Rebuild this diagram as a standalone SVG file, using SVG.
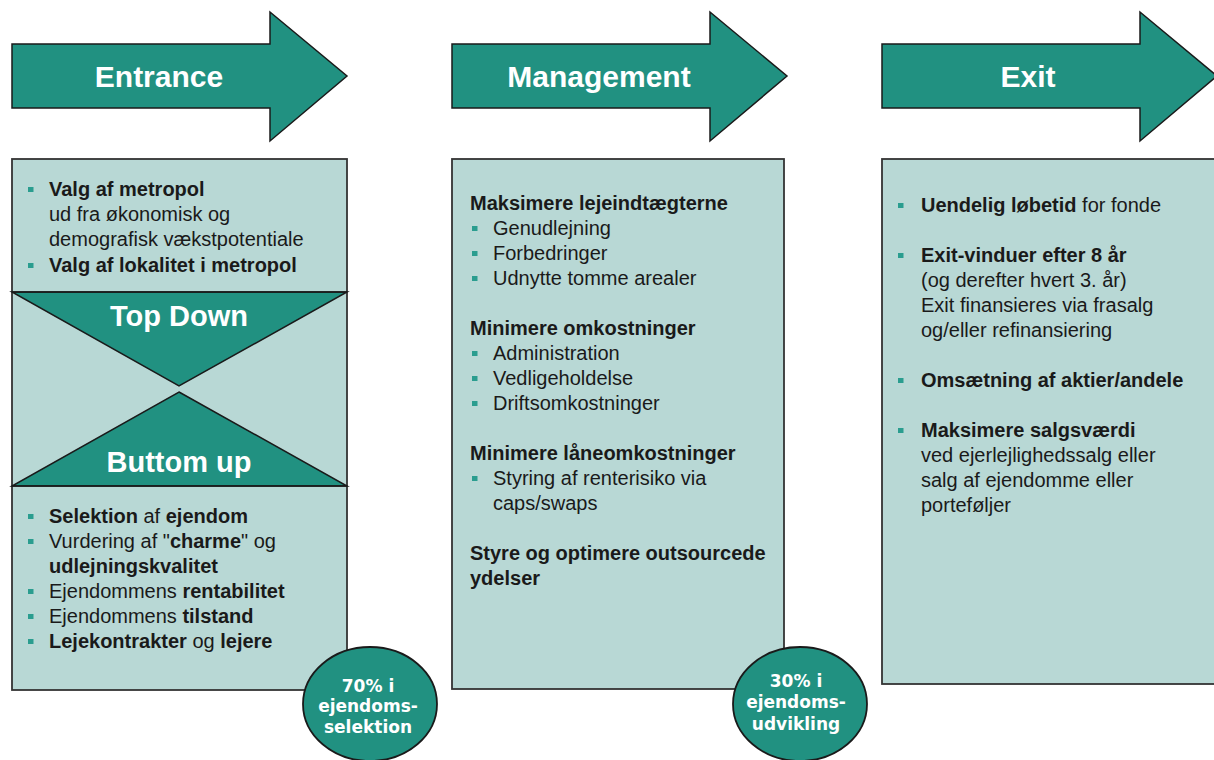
<svg xmlns="http://www.w3.org/2000/svg" width="1214" height="760" viewBox="0 0 1214 760">
<style>
.arrow{fill:#219181;stroke:#1a1a1a;stroke-width:1.5}
.box{fill:#b8d8d5;stroke:#333;stroke-width:1.8}
.tri{fill:#219181;stroke:#1a1a1a;stroke-width:1.5}
.ttl{font-family:"Liberation Sans",Arial,sans-serif;font-weight:bold;font-size:30px;fill:#fff;text-anchor:middle}
.sub{font-family:"Liberation Sans",Arial,sans-serif;font-weight:bold;font-size:29px;fill:#fff;text-anchor:middle}
.t{font-family:"Liberation Sans",Arial,sans-serif;font-size:20px;fill:#1a1a1a}
.b{font-weight:bold}
.bul{fill:#2a9d8f}
.circ{fill:#219181;stroke:#1a1a1a;stroke-width:1.8}
.ct{font-family:"DejaVu Sans",Verdana,sans-serif;font-weight:bold;font-size:17px;fill:#fff;text-anchor:middle}
</style>
<defs>
<rect id="bl" width="5.5" height="5" class="bul"/>
</defs>

<g id="arrow-entrance">
<polygon class="arrow" points="12,44 270,44 270,12 347,76 270,141 270,108 12,108"/>
<text class="ttl" x="159" y="87">Entrance</text>
</g>
<g id="arrow-management">
<polygon class="arrow" points="452,44 710,44 710,12 787,76 710,141 710,108 452,108"/>
<text class="ttl" x="599" y="87">Management</text>
</g>
<g id="arrow-exit">
<polygon class="arrow" points="882,44 1140,44 1140,12 1217,76 1140,141 1140,108 882,108"/>
<text class="ttl" x="1028" y="87">Exit</text>
</g>

<g id="box-entrance">
<rect class="box" x="12" y="159" width="335" height="531"/>
<polygon class="tri" points="12,292 347,292 179,386"/>
<polygon class="tri" points="179,392 347,486 12,486"/>
<line x1="12" y1="292" x2="347" y2="292" stroke="#1a1a1a" stroke-width="1.5"/>
<line x1="12" y1="486" x2="347" y2="486" stroke="#1a1a1a" stroke-width="1.5"/>
<text class="sub" x="179" y="326">Top Down</text>
<text class="sub" x="179" y="472">Buttom up</text>
<use href="#bl" x="28" y="187"/>
<use href="#bl" x="28" y="263"/>
<text class="t" x="49" y="196"><tspan class="b">Valg af metropol</tspan></text>
<text class="t" x="49" y="221">ud fra økonomisk og</text>
<text class="t" x="49" y="246">demografisk vækstpotentiale</text>
<text class="t" x="49" y="272"><tspan class="b">Valg af lokalitet i metropol</tspan></text>
<use href="#bl" x="28" y="514"/>
<use href="#bl" x="28" y="539"/>
<use href="#bl" x="28" y="589"/>
<use href="#bl" x="28" y="614"/>
<use href="#bl" x="28" y="639"/>
<text class="t" x="49" y="523"><tspan class="b">Selektion</tspan> af <tspan class="b">ejendom</tspan></text>
<text class="t" x="49" y="548">Vurdering af "<tspan class="b">charme</tspan>" og</text>
<text class="t" x="49" y="573"><tspan class="b">udlejningskvalitet</tspan></text>
<text class="t" x="49" y="598">Ejendommens <tspan class="b">rentabilitet</tspan></text>
<text class="t" x="49" y="623">Ejendommens <tspan class="b">tilstand</tspan></text>
<text class="t" x="49" y="648"><tspan class="b">Lejekontrakter</tspan> og <tspan class="b">lejere</tspan></text>
</g>

<g id="box-management">
<rect class="box" x="452" y="159" width="332" height="530"/>
<text class="t b" x="470" y="210">Maksimere lejeindtægterne</text>
<use href="#bl" x="472" y="226"/>
<use href="#bl" x="472" y="251"/>
<use href="#bl" x="472" y="276"/>
<text class="t" x="493" y="235">Genudlejning</text>
<text class="t" x="493" y="260">Forbedringer</text>
<text class="t" x="493" y="285">Udnytte tomme arealer</text>
<text class="t b" x="470" y="335">Minimere omkostninger</text>
<use href="#bl" x="472" y="351"/>
<use href="#bl" x="472" y="376"/>
<use href="#bl" x="472" y="401"/>
<text class="t" x="493" y="360">Administration</text>
<text class="t" x="493" y="385">Vedligeholdelse</text>
<text class="t" x="493" y="410">Driftsomkostninger</text>
<text class="t b" x="470" y="460">Minimere låneomkostninger</text>
<use href="#bl" x="472" y="476"/>
<text class="t" x="493" y="485">Styring af renterisiko via</text>
<text class="t" x="493" y="510">caps/swaps</text>
<text class="t b" x="470" y="560">Styre og optimere outsourcede</text>
<text class="t b" x="470" y="585">ydelser</text>
</g>

<g id="box-exit">
<rect class="box" x="882" y="159" width="340" height="525"/>
<use href="#bl" x="898" y="203"/>
<text class="t" x="921" y="212"><tspan class="b">Uendelig løbetid</tspan> for fonde</text>
<use href="#bl" x="898" y="253"/>
<text class="t b" x="921" y="262">Exit-vinduer efter 8 år</text>
<text class="t" x="921" y="287">(og derefter hvert 3. år)</text>
<text class="t" x="921" y="312">Exit finansieres via frasalg</text>
<text class="t" x="921" y="337">og/eller refinansiering</text>
<use href="#bl" x="898" y="378"/>
<text class="t b" x="921" y="387">Omsætning af aktier/andele</text>
<use href="#bl" x="898" y="428"/>
<text class="t b" x="921" y="437">Maksimere salgsværdi</text>
<text class="t" x="921" y="462">ved ejerlejlighedssalg eller</text>
<text class="t" x="921" y="487">salg af ejendomme eller</text>
<text class="t" x="921" y="512">porteføljer</text>
</g>

<g id="badge-70">
<ellipse class="circ" cx="370" cy="704" rx="67" ry="57"/>
<text class="ct" x="368" y="692">70% i</text>
<text class="ct" x="368" y="712">ejendoms-</text>
<text class="ct" x="368" y="733">selektion</text>
</g>
<g id="badge-30">
<ellipse class="circ" cx="800" cy="704" rx="67" ry="57"/>
<text class="ct" x="796" y="687">30% i</text>
<text class="ct" x="796" y="708">ejendoms-</text>
<text class="ct" x="796" y="730">udvikling</text>
</g>
<g id="connectors"/>
</svg>
